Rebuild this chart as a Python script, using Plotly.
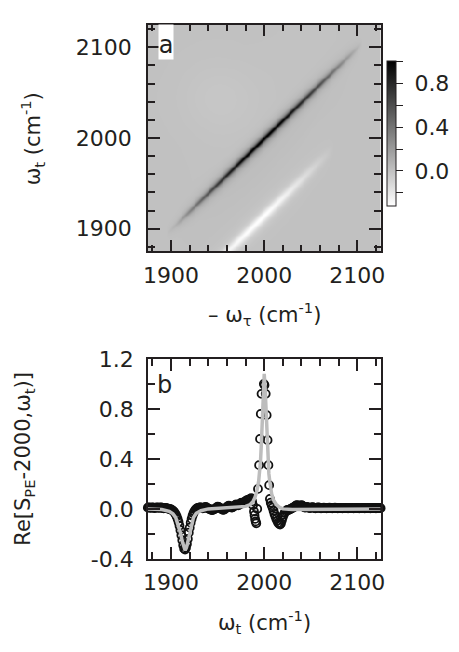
import numpy as np
import plotly.graph_objects as go

# ---------------- data ----------------
# panel b: measured cut (circles)
b_x_left = list(range(1875, 1988))
b_y_left = [0.010, 0.012, 0.010, 0.008, 0.010, 0.012, 0.010, 0.006, 0.008, 0.010,
            0.012, 0.010, 0.008, 0.010, 0.012, 0.010, 0.006, 0.004, 0.006, 0.008,
            0.006, 0.004, 0.000, 0.000, -0.002, -0.005, -0.010, -0.015, -0.022, -0.032,
            -0.045, -0.060, -0.080, -0.105, -0.135, -0.170, -0.210, -0.250, -0.290, -0.318,
            -0.325, -0.310, -0.280, -0.240, -0.190, -0.150, -0.110, -0.080, -0.055, -0.035,
            -0.020, -0.008, 0.000, 0.005, 0.008, 0.010, 0.012, 0.012, 0.008, 0.005,
            0.008, 0.012, 0.015, 0.012, 0.006, 0.002, 0.000, -0.004, -0.008, -0.010,
            -0.008, -0.004, 0.000, 0.006, 0.012, 0.018, 0.015, 0.010, 0.006, 0.000,
            -0.005, -0.008, -0.005, 0.000, 0.008, 0.015, 0.022, 0.025, 0.022, 0.015,
            0.010, 0.012, 0.018, 0.025, 0.032, 0.035, 0.030, 0.028, 0.032, 0.040,
            0.048, 0.050, 0.045, 0.048, 0.055, 0.062, 0.068, 0.070, 0.072, 0.075,
            0.080, 0.085, 0.060]
b_x_peak = [1988, 1989, 1989.6, 1990.2, 1990.8, 1991.5, 1992.5, 1993.3, 1994.5, 1995.5,
            1996.3, 1997.1, 1999.6, 2000.3, 2001.6, 2002.6, 2003.6, 2004.5, 2005.3, 2006.1]
b_y_peak = [0.03, -0.02, -0.05, -0.08, -0.10, -0.115, 0.0, 0.16, 0.35, 0.56,
            0.76, 0.92, 1.0, 0.99, 0.92, 0.75, 0.55, 0.35, 0.19, 0.08]
b_x_right = list(range(2007, 2126))
b_y_right = [0.050, 0.030, 0.010, -0.015, -0.040, -0.060, -0.080, -0.095, -0.110, -0.120,
             -0.125, -0.115, -0.090, -0.065, -0.045, -0.030, -0.020, -0.012, -0.008, -0.010,
             -0.006, -0.002, 0.002, 0.006, 0.010, 0.014, 0.020, 0.026, 0.030, 0.028,
             0.024, 0.022, 0.026, 0.030, 0.025, 0.018, 0.012, 0.010, 0.012, 0.015,
             0.012, 0.008, 0.006, 0.008, 0.012, 0.014, 0.010, 0.006, 0.004, 0.006,
             0.010, 0.012, 0.010, 0.006, 0.004, 0.006, 0.008, 0.010, 0.008, 0.006,
             0.004, 0.006, 0.008, 0.010, 0.008, 0.006, 0.005, 0.006, 0.008, 0.009,
             0.008, 0.006, 0.005, 0.006, 0.008, 0.008, 0.006, 0.005, 0.006, 0.007,
             0.008, 0.007, 0.006, 0.005, 0.006, 0.007, 0.008, 0.007, 0.006, 0.005,
             0.006, 0.007, 0.008, 0.007, 0.006, 0.005, 0.006, 0.007, 0.008, 0.007,
             0.006, 0.005, 0.006, 0.007, 0.008, 0.007, 0.006, 0.005, 0.006, 0.007,
             0.008, 0.007, 0.006, 0.005, 0.006, 0.007, 0.008, 0.007, 0.006]
b_x = b_x_left + b_x_peak + b_x_right
b_y = b_y_left + b_y_peak + b_y_right

# panel b: fitted cut (grey line)
fit_x = [1875, 1890, 1898, 1902, 1905, 1908, 1910, 1912, 1913.5, 1915, 1916.5, 1918, 1920,
         1922, 1924, 1927, 1932, 1940, 1950, 1960, 1970, 1980, 1985, 1988, 1990, 1992,
         1994, 1995, 1996, 1997, 1998, 1999, 2000, 2001, 2002, 2003, 2004, 2005, 2006,
         2008, 2010, 2013, 2016, 2020, 2030, 2060, 2125]
fit_y = [0.0, -0.005, -0.02, -0.04, -0.07, -0.13, -0.19, -0.26, -0.31, -0.33, -0.31, -0.26,
         -0.19, -0.12, -0.07, -0.035, -0.015, 0.0, 0.005, 0.01, 0.015, 0.02, 0.035, 0.06,
         0.09, 0.14, 0.22, 0.28, 0.38, 0.53, 0.74, 0.96, 1.08, 0.96, 0.74, 0.53, 0.38,
         0.28, 0.22, 0.12, 0.07, 0.035, 0.015, 0.0, -0.005, -0.005, 0.0]

# panel a: relative strength of diagonal (positive) and off-diagonal (negative) bands
diag_pos = [1875, 1895, 1905, 1920, 1940, 1960, 1980, 2000, 2020, 2040, 2060, 2080, 2095, 2105, 2125]
diag_rel = [0.0, 0.0, 0.08, 0.3, 0.55, 0.78, 0.95, 1.0, 0.92, 0.75, 0.55, 0.3, 0.12, 0.0, 0.0]
neg_pos = [1875, 1940, 1960, 1980, 2000, 2020, 2040, 2060, 2075, 2125]
neg_rel = [0.6, 0.7, 0.8, 0.95, 1.0, 0.8, 0.5, 0.2, 0.0, 0.0]
blob_x, blob_y, blob_r, blob_a = [1950], [2045], [28], [-0.025]

axis_ticks = [1900, 2000, 2100]
cb_vals = [-0.2, 0.0, 0.2, 0.4, 0.6, 0.8, 1.0]
cb_text = ["", "\u00a00.0", "", "\u00a00.4", "", "\u00a00.8", ""]
b_yvals = [-0.4, 0.0, 0.4, 0.8, 1.2]
b_ytext = ["-0.4", "0.0", "0.4", "0.8", "1.2"]

# ---------------- build 2D map from the lists ----------------
grid = np.arange(1875, 2126, 1.0)
X, Y = np.meshgrid(grid, grid)
S = Y - X + 2000
prof = np.interp(S, fit_x, fit_y)
Z = (np.where(S > 1960, prof, 0.0) * np.interp(X, diag_pos, diag_rel)
     + np.where(S <= 1960, prof, 0.0) * np.interp(X, neg_pos, neg_rel))
for bx, by, br, ba in zip(blob_x, blob_y, blob_r, blob_a):
    Z = Z + ba * np.exp(-((X - bx) ** 2 + (Y - by) ** 2) / (2 * br ** 2))

# ---------------- figure ----------------
W, H = 459, 652
FONT = "DejaVu Sans"
INK = "#231f20"


def fx(p):
    return p / W


def fy(p):
    return 1 - p / H


fig = go.Figure()
fig.add_trace(go.Heatmap(
    x=grid, y=grid, z=Z, zmin=-0.32, zmax=1.0, zsmooth="best",
    colorscale=[[0, "#ffffff"], [1, "#000000"]],
    xaxis="x", yaxis="y",
    colorbar=dict(x=fx(390), xanchor="left", y=fy(126.5), yanchor="middle",
                  len=151 / H, lenmode="fraction", thickness=9, thicknessmode="pixels",
                  outlinewidth=1, outlinecolor=INK, ticks="outside", ticklen=7,
                  tickwidth=1.2, tickcolor=INK, tickvals=cb_vals, ticktext=cb_text,
                  tickfont=dict(family=FONT, size=22, color=INK), xpad=0, ypad=0),
))
fig.add_trace(go.Scatter(
    x=b_x, y=b_y, mode="markers", xaxis="x2", yaxis="y2", cliponaxis=False,
    marker=dict(symbol="circle-open", size=8, color="#111111", line=dict(width=1.8)),
    showlegend=False,
))
fig.add_trace(go.Scatter(
    x=fit_x, y=fit_y, mode="lines", xaxis="x2", yaxis="y2",
    line=dict(color="#bdbdbd", width=3.5), showlegend=False,
))


def minor(t0, dt):
    return dict(ticks="inside", ticklen=7, tickwidth=1.5, tickcolor=INK, tick0=t0, dtick=dt)


def axis(**kw):
    d = dict(showline=True, linecolor=INK, linewidth=1.5, mirror="allticks",
             ticks="inside", ticklen=12, tickwidth=1.5, tickcolor=INK,
             showgrid=False, zeroline=False,
             tickfont=dict(family=FONT, size=22, color=INK))
    d.update(kw)
    return d


xdom = [fx(146), fx(384)]
fig.update_layout(
    width=W, height=H, autosize=False, margin=dict(l=0, r=0, t=0, b=0),
    paper_bgcolor="white", plot_bgcolor="white", showlegend=False,
    xaxis=axis(domain=xdom, range=[1875, 2125], anchor="y", tickvals=axis_ticks,
               ticklabelstandoff=3, minor=minor(1900, 20)),
    yaxis=axis(domain=[fy(249), fy(13)], range=[1875, 2125], anchor="x", tickvals=axis_ticks,
               ticklabelstandoff=10, minor=minor(1900, 20)),
    xaxis2=axis(domain=xdom, range=[1875, 2125], anchor="y2", tickvals=axis_ticks,
                ticklabelstandoff=3, minor=minor(1900, 20)),
    yaxis2=axis(domain=[fy(568.7), fy(360.7)], range=[-0.4, 1.2], anchor="x2",
                tickvals=b_yvals, ticktext=b_ytext, ticklabelstandoff=8,
                minor=minor(0, 0.2)),
)

ann_font = dict(family=FONT, size=21, color=INK)
annotations = [
    dict(text="\u03c9<sub>t</sub> (cm<sup>-1</sup>)", x=fx(28), y=fy(132), textangle=-90),
    dict(text="\u2013 \u03c9<sub>\u03c4</sub> (cm<sup>-1</sup>)", x=fx(265), y=fy(314)),
    dict(text="Re[S<sub>PE</sub>-2000,\u03c9<sub>t</sub>)]", x=fx(20), y=fy(465), textangle=-90),
    dict(text="\u03c9<sub>t</sub> (cm<sup>-1</sup>)", x=fx(265), y=fy(634)),
]
for a in annotations:
    a.update(xref="paper", yref="paper", showarrow=False, font=ann_font,
             xanchor="center", yanchor="middle")
    fig.add_annotation(**a)

fig.add_annotation(text="a", x=fx(165), y=fy(31), xref="paper", yref="paper",
                   showarrow=False, font=dict(family=FONT, size=24, color=INK),
                   bgcolor="white", width=14, height=34, valign="bottom",
                   xanchor="center", yanchor="middle", borderpad=0)
fig.add_annotation(text="b", x=fx(163), y=fy(388), xref="paper", yref="paper",
                   showarrow=False, font=dict(family=FONT, size=24, color=INK),
                   xanchor="center", yanchor="middle")

fig.write_html("out.html")
